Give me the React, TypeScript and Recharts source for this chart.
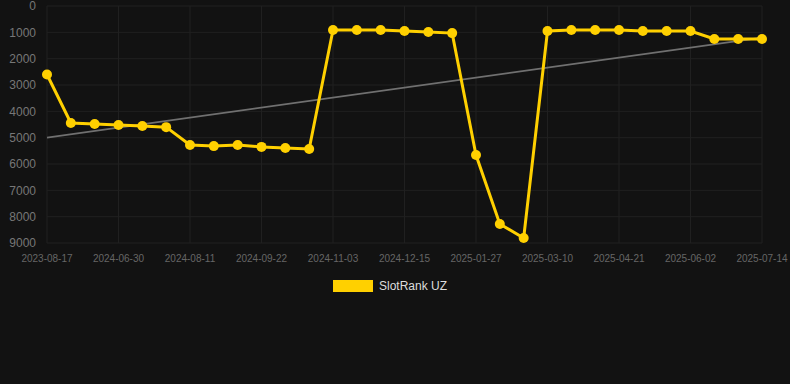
import { LineChart, Line, XAxis, YAxis, CartesianGrid, Legend } from 'recharts';

const dates = [
  '2023-08-17', '2024-06-02', '2024-06-16', '2024-06-30', '2024-07-14', '2024-07-28',
  '2024-08-11', '2024-08-25', '2024-09-08', '2024-09-22', '2024-10-06', '2024-10-20',
  '2024-11-03', '2024-11-17', '2024-12-01', '2024-12-15', '2024-12-29', '2025-01-12',
  '2025-01-27', '2025-02-10', '2025-02-24', '2025-03-10', '2025-03-24', '2025-04-07',
  '2025-04-21', '2025-05-05', '2025-05-19', '2025-06-02', '2025-06-16', '2025-06-30',
  '2025-07-14',
];

const rank = [
  2600, 4440, 4480, 4520, 4560, 4600,
  5280, 5320, 5280, 5350, 5390, 5430,
  910, 910, 910, 950, 990, 1030,
  5660, 8280, 8810, 950, 910, 910,
  910, 950, 950, 950, 1250, 1250,
  1250,
];

// trend line endpoints
const trendStart = 5000;
const trendEnd = 1200;

const yTicks = [0, 1000, 2000, 3000, 4000, 5000, 6000, 7000, 8000, 9000];

const data = dates.map((date, i) => ({
  date,
  rank: rank[i],
  trend: i === 0 ? trendStart : i === dates.length - 1 ? trendEnd : null,
}));

const font = "'Liberation Sans', Arial, sans-serif";

function ChartLegend() {
  return (
    <div style={{ display: 'flex', justifyContent: 'center', alignItems: 'center', height: 20, paddingLeft: 18, paddingTop: 3, fontFamily: font }}>
      <span style={{ display: 'inline-block', width: 40, height: 12, background: '#FFD000', marginRight: 6 }} />
      <span style={{ color: '#ddd', fontSize: 12 }}>SlotRank UZ</span>
    </div>
  );
}

export default function App() {
  return (
    <div style={{ position: 'absolute', left: 0, top: 0, width: 790, height: 384, background: '#121212' }}>
      <LineChart width={790} height={303} data={data} margin={{ top: 6, right: 28, left: 0, bottom: 7 }}>
        <CartesianGrid stroke="#202020" />
        <XAxis
          dataKey="date"
          interval={2}
          tickLine={false}
          axisLine={false}
          tickMargin={6}
          height={30}
          tick={{ fontSize: 10, fill: '#666', fontFamily: font }}
        />
        <YAxis
          reversed
          domain={[0, 9000]}
          ticks={yTicks}
          interval={0}
          width={47}
          tickLine={false}
          axisLine={false}
          tickMargin={5}
          tick={{ fontSize: 12, fill: '#777', fontFamily: font }}
        />
        <Legend verticalAlign="bottom" content={<ChartLegend />} />
        <Line
          dataKey="trend"
          stroke="#707070"
          strokeWidth={1.8}
          dot={false}
          connectNulls
          legendType="none"
          isAnimationActive={false}
        />
        <Line
          dataKey="rank"
          stroke="#FFD000"
          strokeWidth={3}
          dot={{ r: 5, fill: '#FFD000', stroke: 'none' }}
          activeDot={false}
          isAnimationActive={false}
        />
      </LineChart>
    </div>
  );
}
